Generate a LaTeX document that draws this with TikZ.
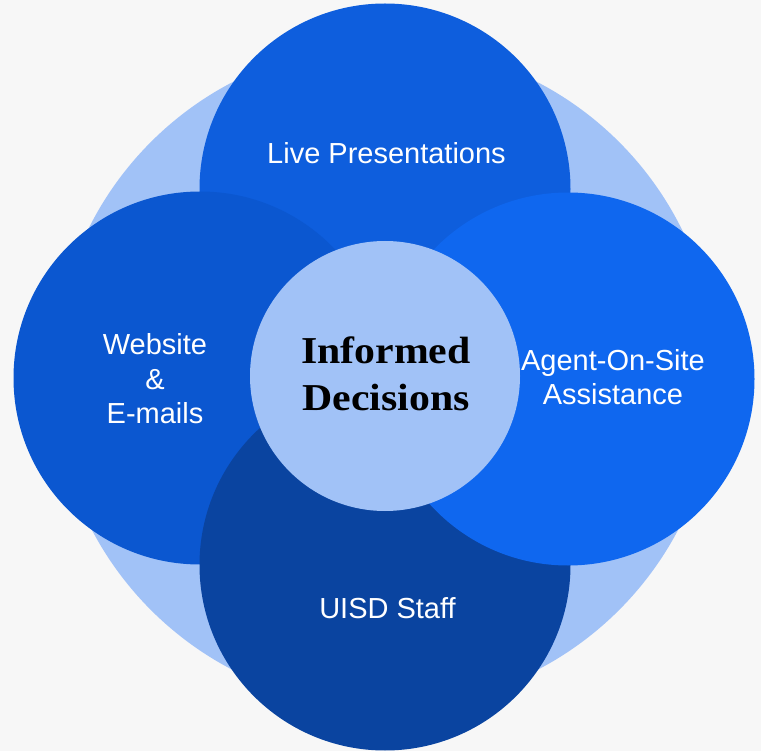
\documentclass[tikz,border=0pt]{standalone}
\usepackage{fontspec}
\setmainfont{Liberation Sans}
\newfontfamily\titlefont[FakeStretch=1.1]{Liberation Serif}
\usepackage{tikz}
\usetikzlibrary{positioning}
\usepackage{xcolor}
\definecolor{paper}{RGB}{247,247,247}
\definecolor{skyblue}{RGB}{161,194,247}
\definecolor{liveblue}{RGB}{14,94,221}
\definecolor{webblue}{RGB}{11,87,208}
\definecolor{staffblue}{RGB}{10,68,160}
\definecolor{agentblue}{RGB}{15,103,239}

\begin{document}
\begin{tikzpicture}[x=1pt,y=-1pt]
        \tikzstyle{disc}=[circle, inner sep=0pt, minimum size=371pt]
        \tikzstyle{caption}=[text=white, align=center, inner sep=0pt, font=\fontsize{29}{34.5}\selectfont]
        \tikzstyle{title}=[text=black, align=center, inner sep=0pt, font=\titlefont\bfseries\fontsize{38}{47}\selectfont]

        % Paper
        \fill[paper] (0,0) rectangle (761,751);
        \useasboundingbox (0,0) rectangle (761,751);

        % Outer halo
        \node (halo)[disc, fill=skyblue, minimum size=662pt] at (385,376) {};

        % Four channels
        \node (live)[disc, fill=liveblue] at (385,189) {};
        \node (web)[disc, fill=webblue, minimum size=373pt] at (200,378) {};
        \node (staff)[disc, fill=staffblue] at (385,565) {};
        \node (agent)[disc, fill=agentblue, minimum size=373pt] at (568,379) {};

        % Core
        \node (core)[disc, fill=skyblue, minimum size=270pt] at (385,376) {};

        % Labels (base = last line)
        \node (livetext)[caption, anchor=base] at (386.5,164) {Live Presentations};
        \node (webtext)[caption, anchor=base] at (155,424) {Website\\\&\\E-mails};
        \node (coretext)[title, anchor=base] at (386,410) {Informed\\Decisions};
        \node (agenttext)[caption, anchor=base] at (613,405) {Agent-On-Site\\Assistance};
        \node (stafftext)[caption, anchor=base] at (387.5,618) {UISD Staff};
    \end{tikzpicture}
\end{document}
